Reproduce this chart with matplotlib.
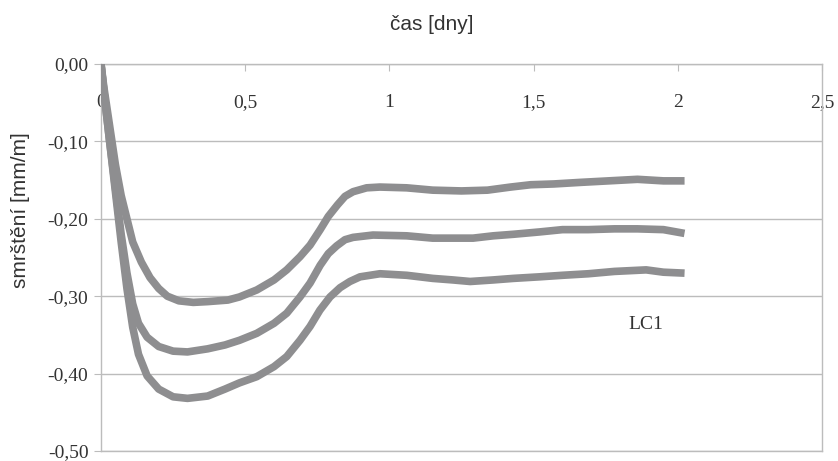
import numpy as np
import matplotlib
matplotlib.use('Agg')
import matplotlib.pyplot as plt
from matplotlib.ticker import FuncFormatter

# smrsteni vzorku LC1 - tri mereni, cas ve dnech
t_top = [0, 0.01, 0.03, 0.05, 0.07, 0.09, 0.11, 0.14, 0.17, 0.20, 0.23, 0.27, 0.32, 0.37,
         0.44, 0.48, 0.54, 0.60, 0.644, 0.69, 0.725, 0.76, 0.788, 0.82, 0.846, 0.874,
         0.921, 0.967, 1.06, 1.15, 1.25, 1.34, 1.42, 1.49, 1.57, 1.66, 1.76, 1.86, 1.95, 2.01]
s_top = [0, -0.03, -0.08, -0.13, -0.17, -0.20, -0.23, -0.256, -0.276, -0.29, -0.30, -0.306,
         -0.308, -0.307, -0.305, -0.301, -0.292, -0.279, -0.266, -0.249, -0.234, -0.214,
         -0.197, -0.182, -0.171, -0.165, -0.160, -0.159, -0.160, -0.163, -0.164, -0.163,
         -0.159, -0.156, -0.155, -0.153, -0.151, -0.149, -0.151, -0.151]

t_mid = [0, 0.01, 0.03, 0.05, 0.07, 0.09, 0.11, 0.13, 0.16, 0.20, 0.25, 0.30, 0.37, 0.43,
         0.48, 0.54, 0.60, 0.644, 0.69, 0.725, 0.76, 0.788, 0.817, 0.846, 0.874, 0.943,
         1.06, 1.15, 1.29, 1.36, 1.43, 1.52, 1.60, 1.69, 1.78, 1.86, 1.95, 2.01]
s_mid = [0, -0.035, -0.10, -0.16, -0.22, -0.27, -0.31, -0.335, -0.353, -0.365, -0.371,
         -0.372, -0.368, -0.363, -0.357, -0.348, -0.335, -0.322, -0.301, -0.283, -0.260,
         -0.245, -0.235, -0.227, -0.224, -0.221, -0.222, -0.225, -0.225, -0.222, -0.220,
         -0.217, -0.214, -0.214, -0.213, -0.213, -0.214, -0.218]

t_bot = [0, 0.01, 0.03, 0.05, 0.07, 0.09, 0.11, 0.13, 0.16, 0.20, 0.25, 0.30, 0.37, 0.43,
         0.48, 0.54, 0.60, 0.644, 0.69, 0.725, 0.759, 0.794, 0.829, 0.863, 0.898, 0.967,
         1.06, 1.15, 1.22, 1.28, 1.36, 1.43, 1.52, 1.60, 1.69, 1.78, 1.89, 1.95, 2.01]
s_bot = [0, -0.035, -0.10, -0.165, -0.23, -0.29, -0.34, -0.375, -0.403, -0.42, -0.43,
         -0.432, -0.429, -0.420, -0.412, -0.404, -0.391, -0.378, -0.357, -0.339, -0.318,
         -0.301, -0.289, -0.281, -0.275, -0.271, -0.273, -0.277, -0.279, -0.281, -0.279,
         -0.277, -0.275, -0.273, -0.271, -0.268, -0.266, -0.269, -0.270]

x_ticks = [0, 0.5, 1, 1.5, 2, 2.5]
y_ticks = [0, -0.1, -0.2, -0.3, -0.4, -0.5]

gray = '#8e8e90'
gridc = '#bcbcbc'
txtc = '#333333'

fig = plt.figure(figsize=(8.38, 4.61), dpi=100)
ax = fig.add_axes([0.1205, 0.0217, 0.8605, 0.8395])

for t, s in [(t_top, s_top), (t_mid, s_mid), (t_bot, s_bot)]:
    ax.plot(t, s, color=gray, lw=5.5, solid_joinstyle='round', zorder=3)

ax.set_xlim(0, 2.5)
ax.set_ylim(-0.5, 0)

ax.set_xticks(x_ticks)
ax.set_yticks(y_ticks)
ax.xaxis.set_major_formatter(FuncFormatter(lambda v, p: ('%g' % v).replace('.', ',')))
ax.yaxis.set_major_formatter(FuncFormatter(lambda v, p: ('%.2f' % v).replace('.', ',')))
ax.xaxis.set_ticks_position('top')
ax.tick_params(axis='x', direction='in', length=5, color=gridc, pad=-34,
               labelsize=14, labelfontfamily='Liberation Serif', labelcolor=txtc)
ax.tick_params(axis='y', direction='out', length=5, color=gridc, pad=4,
               labelsize=14, labelfontfamily='Liberation Serif', labelcolor=txtc)

ax.yaxis.grid(True, color=gridc, lw=1)
for sp in ax.spines.values():
    sp.set_color(gridc)
    sp.set_linewidth(1)

# popisky os
fig.text(432 / 838, 1 - 25 / 461, 'čas [dny]', family='Liberation Sans', fontsize=15,
         color=txtc, ha='center', va='center')
fig.text(20 / 838, 1 - 210 / 461, 'smrštění [mm/m]', family='Liberation Sans', fontsize=15,
         color=txtc, ha='center', va='center', rotation=90)

ax.text(1.89, -0.337, 'LC1', family='Liberation Serif', fontsize=14,
        color=txtc, ha='center', va='center')

fig.savefig('out.png', dpi=100)
